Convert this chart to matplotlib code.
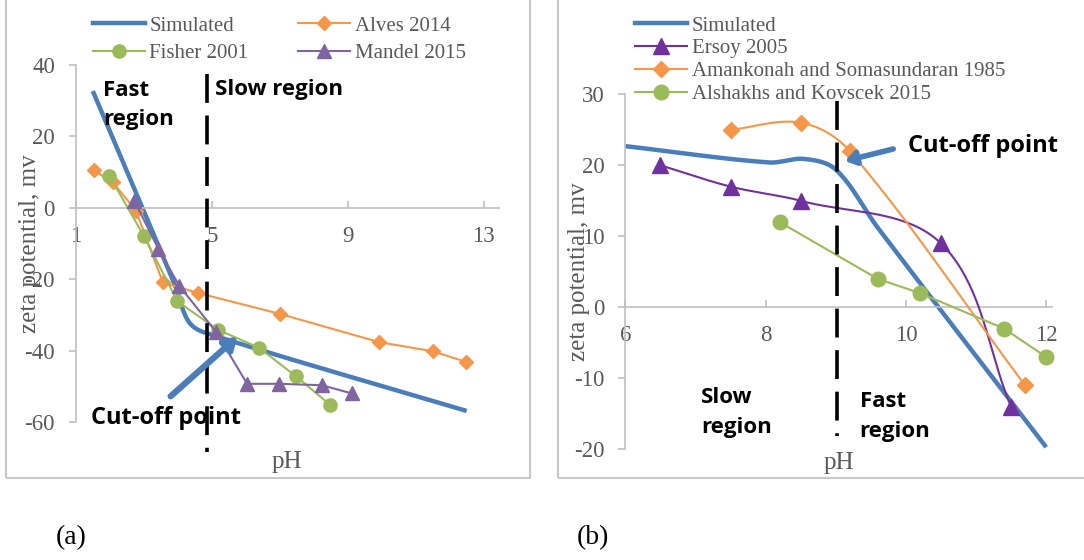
import numpy as np
import matplotlib
matplotlib.use("Agg")
import matplotlib.pyplot as plt
from matplotlib.lines import Line2D
from matplotlib.patches import Rectangle

plt.rcParams["axes.unicode_minus"] = False

# ---------------- data: panel (a) ----------------
sim_a_ph = [1.5, 3.9, 4.3, 4.75, 12.5]
sim_a_zeta = [32.7, -21.3, -31.6, -34.8, -56.9]

alves_ph = [1.53, 2.09, 2.77, 3.56, 4.61, 7.0, 9.91, 11.51, 12.49]
alves_zeta = [10.5, 7.1, -0.8, -20.9, -23.9, -29.7, -37.6, -40.2, -43.2]

fisher_ph = [1.99, 3.0, 3.99, 5.17, 6.39, 7.48, 8.47]
fisher_zeta = [8.9, -7.8, -26.2, -34.1, -39.2, -47.2, -55.1]

mandel_ph = [2.72, 3.43, 4.04, 5.13, 6.04, 6.97, 8.24, 9.12]
mandel_zeta = [2.0, -11.5, -21.8, -34.8, -49.3, -49.3, -49.7, -52.0]

xticks_a = [1, 5, 9, 13]
yticks_a = [-60, -40, -20, 0, 20, 40]
cutoff_a = 4.85

# ---------------- data: panel (b) ----------------
sim_b_ph = [6.0, 8.05, 8.55, 9.0, 9.6, 12.0]
sim_b_zeta = [22.7, 20.4, 20.9, 19.4, 11.2, -19.7]

ersoy_ph = [6.5, 7.5, 8.5, 10.5, 11.5]
ersoy_zeta = [20, 17, 15, 9, -14]

aman_ph = [7.5, 8.5, 9.2, 11.7]
aman_zeta = [25, 26, 22, -11]

alsh_ph = [8.2, 9.6, 10.2, 11.4, 12.0]
alsh_zeta = [12, 4, 2, -3, -7]

xticks_b = [6, 8, 10, 12]
yticks_b = [-20, -10, 0, 10, 20, 30]
cutoff_b = 9.02

# ---------------- styling ----------------
BLUE = "#4a7ebb"
ORANGE = "#f79646"
GREEN = "#9bbb59"
PURPLE_A = "#8064a2"
PURPLE_B = "#7030a0"
GRAY_TXT = "#595959"
AXIS_GRAY = "#bfbfbf"
SERIF = "Liberation Serif"
BOLD = "Open Sans"

W, H = 1084, 560
fig = plt.figure(figsize=(W / 100, H / 100), dpi=100)


def px_rect(x0, y0, x1, y1):
    """Figure-fraction rectangle from pixel edges (origin top-left)."""
    return [x0 / W, 1 - y1 / H, (x1 - x0) / W, (y1 - y0) / H]


def smooth(ax, x, y, n=40):
    """Smoothed curve through the points: cubic Bezier pieces in display space,
    tangents along neighbour chords, handle length a third of each piece."""
    pts = ax.transData.transform(np.column_stack([x, y]))

    def unit(v):
        nv = np.hypot(*v)
        return v / nv if nv > 0 else v

    out = [pts[0]]
    t = np.linspace(0, 1, n)[1:, None]
    for i in range(len(pts) - 1):
        p0 = pts[i - 1] if i > 0 else pts[i]
        p1, p2 = pts[i], pts[i + 1]
        p3 = pts[i + 2] if i + 2 < len(pts) else pts[i + 1]
        L = np.hypot(*(p2 - p1)) / 3
        c1 = p1 + unit(p2 - p0) * L
        c2 = p2 - unit(p3 - p1) * L
        seg = (1 - t) ** 3 * p1 + 3 * (1 - t) ** 2 * t * c1 + 3 * (1 - t) * t ** 2 * c2 + t ** 3 * p2
        out.extend(seg)
    return ax.transData.inverted().transform(np.array(out)).T


def style_axes(ax, xlim, ylim, xticks, yticks):
    ax.set_xlim(*xlim)
    ax.set_ylim(*ylim)
    ax.set_xticks(xticks)
    ax.set_yticks(yticks)
    ax.patch.set_alpha(0)
    for s in ("top", "right"):
        ax.spines[s].set_visible(False)
    ax.spines["bottom"].set_position(("data", 0))
    for s in ("left", "bottom"):
        ax.spines[s].set_color(AXIS_GRAY)
        ax.spines[s].set_linewidth(1.2)
    ax.tick_params(axis="x", direction="in", length=5, width=1.2, color=AXIS_GRAY,
                   pad=13, labelsize=16.5, labelcolor=GRAY_TXT)
    ax.tick_params(axis="y", direction="out", length=5, width=1.2, color=AXIS_GRAY,
                   pad=10, labelsize=16.5, labelcolor=GRAY_TXT)
    for lab in ax.get_xticklabels() + ax.get_yticklabels():
        lab.set_fontfamily(SERIF)


def series(ax, x, y, color, lw, marker=None, ms=0, smooth_line=False, z=2):
    if smooth_line:
        sx, sy = smooth(ax, x, y)
    else:
        sx, sy = x, y
    ax.plot(sx, sy, color=color, lw=lw, solid_capstyle="butt", zorder=z, clip_on=False)
    if marker:
        ax.plot(x, y, ls="none", marker=marker, ms=ms, color=color, mec=color, zorder=z + 0.5,
                clip_on=False)
    return Line2D([], [], color=color, lw=lw, marker=marker, ms=ms, mec=color)


# ---------- frames ----------
for x0, x1 in ((6, 530), (558, 1095)):
    fig.add_artist(Rectangle(px_rect(x0, -3, x1, 478)[:2], (x1 - x0) / W, 481 / H,
                             transform=fig.transFigure, fill=False, ec="#c8c8c8", lw=1.5))

# =============== panel (a) ===============
axa = fig.add_axes(px_rect(75.8, 65, 499.3, 422))
style_axes(axa, (1, 13.46), (-60, 40), xticks_a, yticks_a)

h_sim = series(axa, sim_a_ph, sim_a_zeta, BLUE, 3.2, smooth_line=True, z=2)
h_alv = series(axa, alves_ph, alves_zeta, ORANGE, 1.5, "D", 7.5, z=3)
h_fis = series(axa, fisher_ph, fisher_zeta, GREEN, 1.5, "o", 9.5, z=4)
h_man = series(axa, mandel_ph, mandel_zeta, PURPLE_A, 1.5, "^", 10, z=5)

axa.plot([cutoff_a, cutoff_a], [37.4, -68.4], color="black", lw=2.6,
         dashes=(8, 3.5), clip_on=False, zorder=6)

axa.set_ylabel("zeta potential, mv", fontfamily=SERIF, fontsize=18, color=GRAY_TXT, va="center")
axa.yaxis.set_label_coords(-0.108, 0.5)
axa.set_xlabel("pH", fontfamily=SERIF, fontsize=18, color=GRAY_TXT, va="center")
axa.xaxis.set_label_coords(0.498, -0.111)

# two columns, filled column-wise: (Simulated, Fisher) | (Alves, Mandel)
axa.legend([h_sim, h_fis, h_alv, h_man],
           ["Simulated", "Fisher 2001", "Alves 2014", "Mandel 2015"],
           ncol=2, loc="upper left", bbox_to_anchor=(93 / W, 1 - 16 / H),
           bbox_transform=fig.transFigure, frameon=False, borderpad=0, borderaxespad=0,
           handlelength=2.5, handletextpad=0.2, columnspacing=2.4, labelspacing=0.39,
           prop={"family": SERIF, "size": 15}, labelcolor=GRAY_TXT)

bold = dict(fontfamily=BOLD, fontweight="bold", fontsize=16, color="black",
            ha="left", va="center", linespacing=1.55, clip_on=False, zorder=8)
axa.text(1.8, 28.8, "Fast\nregion", **bold)
axa.text(5.09, 33.2, "Slow region", **bold)
axa.text(1.46, -58.9, "Cut-off point", **{**bold, "fontsize": 17})
axa.annotate("", xy=(5.76, -36.1), xytext=(3.79, -52.8),
             arrowprops=dict(arrowstyle="-|>,head_length=0.7,head_width=0.45", lw=4.5,
                             color=BLUE, shrinkA=0, shrinkB=0), zorder=7)

# =============== panel (b) ===============
axb = fig.add_axes(px_rect(625.3, 94.3, 1051.8, 449.3))
style_axes(axb, (6, 12.08), (-20, 30), xticks_b, yticks_b)

g_sim = series(axb, sim_b_ph, sim_b_zeta, BLUE, 3.2, smooth_line=True, z=2)
g_ers = series(axb, ersoy_ph, ersoy_zeta, PURPLE_B, 1.5, "^", 11, smooth_line=True, z=3)
g_ama = series(axb, aman_ph, aman_zeta, ORANGE, 1.5, "D", 8, smooth_line=True, z=4)
g_als = series(axb, alsh_ph, alsh_zeta, GREEN, 1.5, "o", 10.5, z=5)

axb.plot([cutoff_b, cutoff_b], [29.1, -18.1], color="black", lw=2.6,
         dashes=(8, 3.5), clip_on=False, zorder=6)

axb.set_ylabel("zeta potential, mv", fontfamily=SERIF, fontsize=18, color=GRAY_TXT, va="center")
axb.yaxis.set_label_coords(-0.1086, 0.5)
axb.set_xlabel("pH", fontfamily=SERIF, fontsize=18, color=GRAY_TXT, va="center")
axb.xaxis.set_label_coords(0.501, -0.039)

axb.legend([g_sim, g_ers, g_ama, g_als],
           ["Simulated", "Ersoy 2005", "Amankonah and Somasundaran 1985",
            "Alshakhs and Kovscek 2015"],
           ncol=1, loc="upper left", bbox_to_anchor=(635.4 / W, 1 - 16 / H),
           bbox_transform=fig.transFigure, frameon=False, borderpad=0, borderaxespad=0,
           handlelength=2.5, handletextpad=0.2, labelspacing=0.16,
           prop={"family": SERIF, "size": 15}, labelcolor=GRAY_TXT)

axb.text(10.03, 22.7, "Cut-off point", **{**bold, "fontsize": 17})
axb.text(7.08, -14.8, "Slow\nregion", **bold)
axb.text(9.34, -15.4, "Fast\nregion", **bold)
axb.annotate("", xy=(9.13, 20.6), xytext=(9.82, 22.3),
             arrowprops=dict(arrowstyle="-|>,head_length=0.6,head_width=0.4", lw=4,
                             color=BLUE, shrinkA=0, shrinkB=0), zorder=7)

# ---------- captions ----------
fig.text(71 / W, 1 - 538 / H, "(a)", fontfamily=SERIF, fontsize=20, ha="center", va="center")
fig.text(593 / W, 1 - 538 / H, "(b)", fontfamily=SERIF, fontsize=20, ha="center", va="center")

fig.savefig("out.png", dpi=100)
